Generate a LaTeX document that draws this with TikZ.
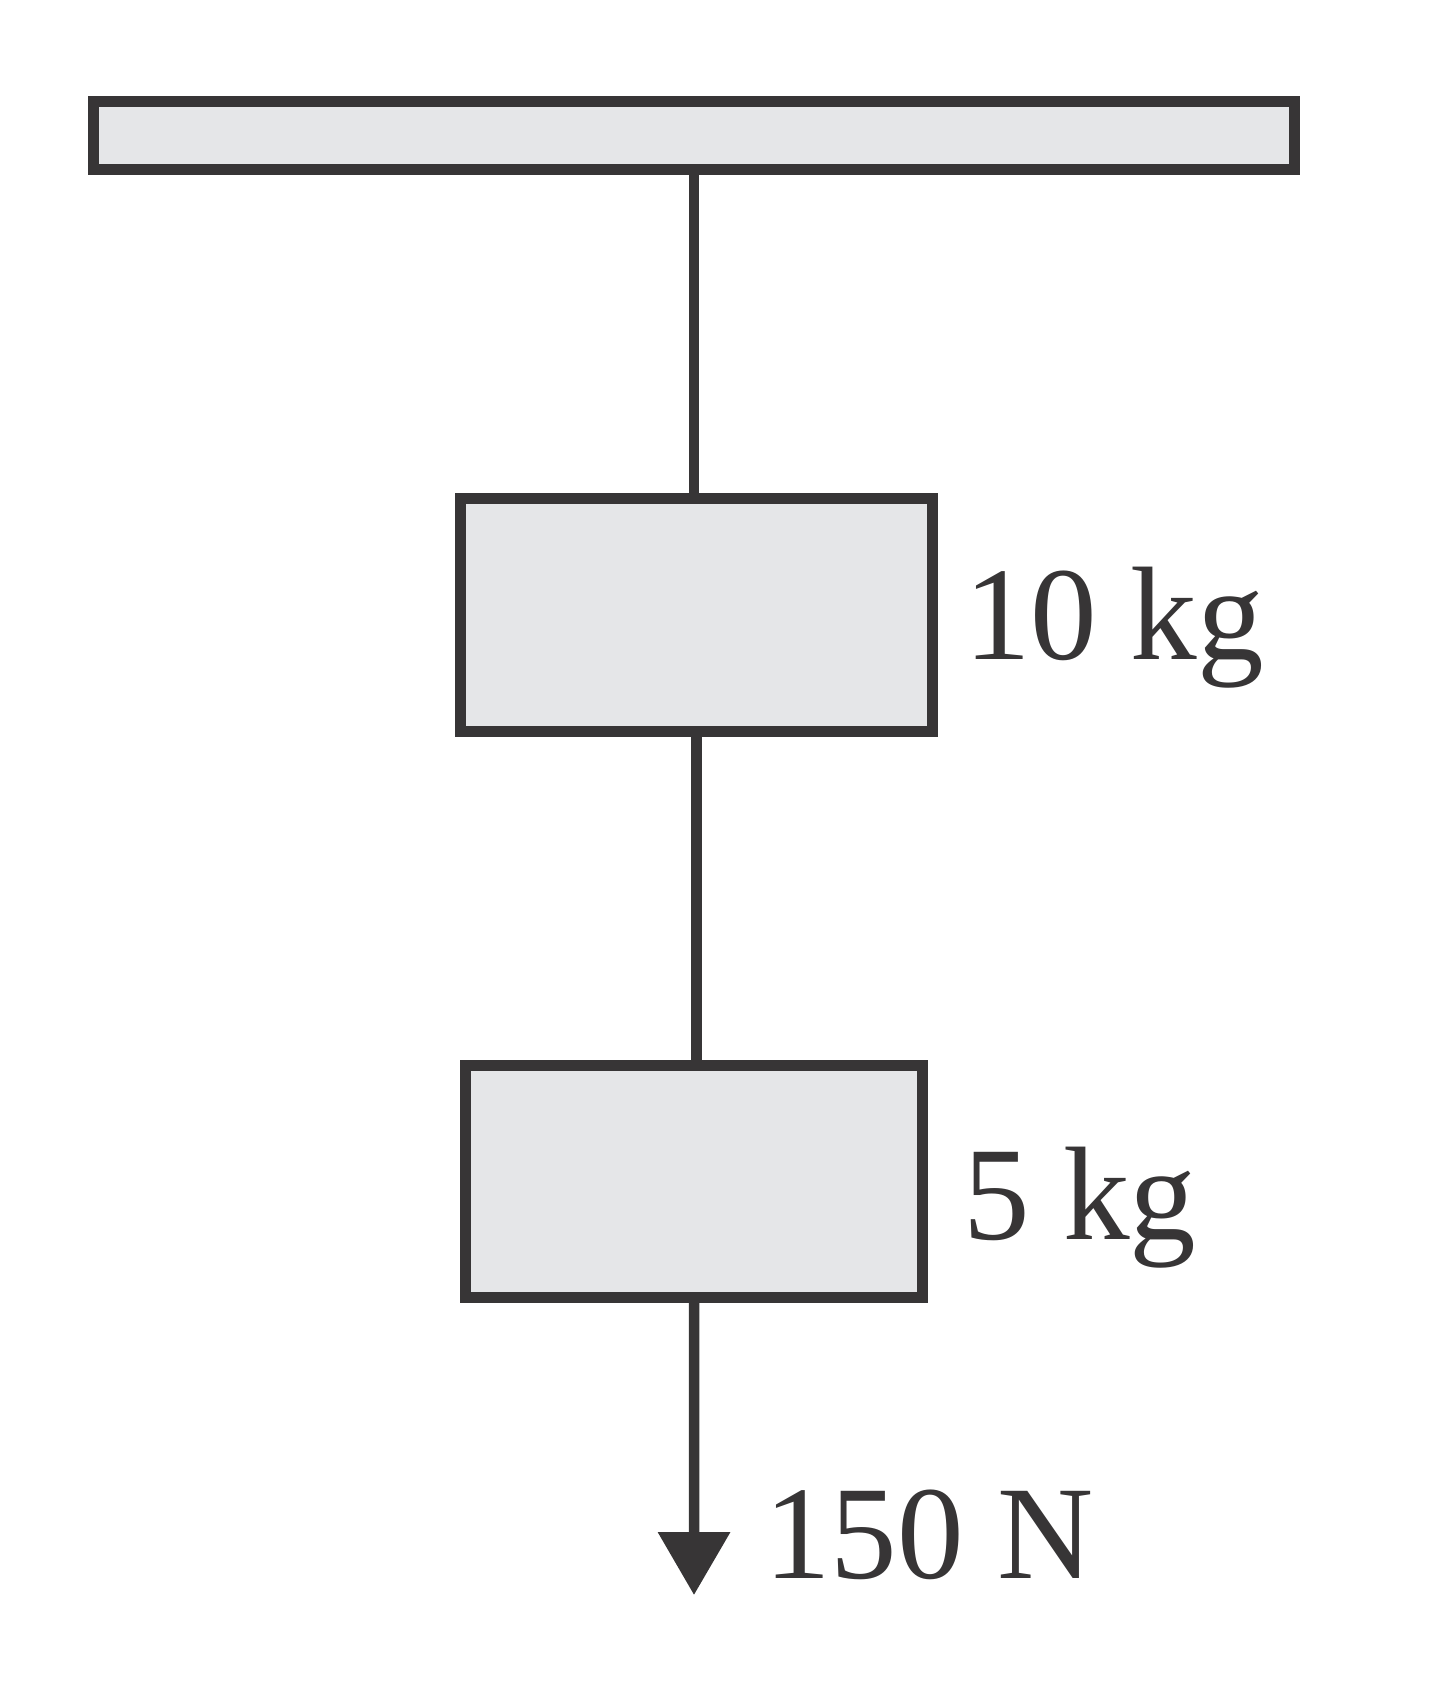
\documentclass[tikz,border=0pt]{standalone}
\usepackage{fontspec}
\setmainfont{Liberation Serif}
\usetikzlibrary{arrows.meta,positioning}
\definecolor{inkgray}{RGB}{55,53,54}
\definecolor{boxgray}{RGB}{229,230,232}
\tikzset{
  block/.style={rectangle, draw=inkgray, fill=boxgray, line width=0.22cm, inner sep=0pt},
  rope/.style={draw=inkgray, line width=0.21cm},
  masslabel/.style={text=inkgray, inner sep=0pt, anchor=base west, font=\fontsize{75.8}{90}\selectfont}
}
\begin{document}
\begin{tikzpicture}[x=0.02cm, y=-0.02cm]
    \useasboundingbox (0,0) rectangle (1432,1688);

    % Ceiling
    \node[block, minimum width=24.02cm, minimum height=1.36cm] (ceiling) at (694,135.5) {};

    % Masses
    \node[block, minimum width=9.45cm, minimum height=4.67cm] (m10) at (696.3,614.8) {};
    \node[block, minimum width=9.15cm, minimum height=4.63cm] (m5) at (694.2,1181.3) {};
    \coordinate (tip) at (694,1595);

    % Ropes and pulling force
    \draw[rope] (ceiling.south) -- (ceiling.south |- m10.north);
    \draw[rope] (m10.south) -- (m10.south |- m5.north);
    \draw[rope, -{Triangle[length=1.26cm, width=1.4cm]}] (m5.south) -- (tip);

    % Labels
    \node[masslabel] (lab10) at (964,659) {10 kg};
    \node[masslabel] (lab5) at (963,1239) {5 kg};
    \node[masslabel] (labF) at (764,1578) {150 N};
\end{tikzpicture}
\end{document}
